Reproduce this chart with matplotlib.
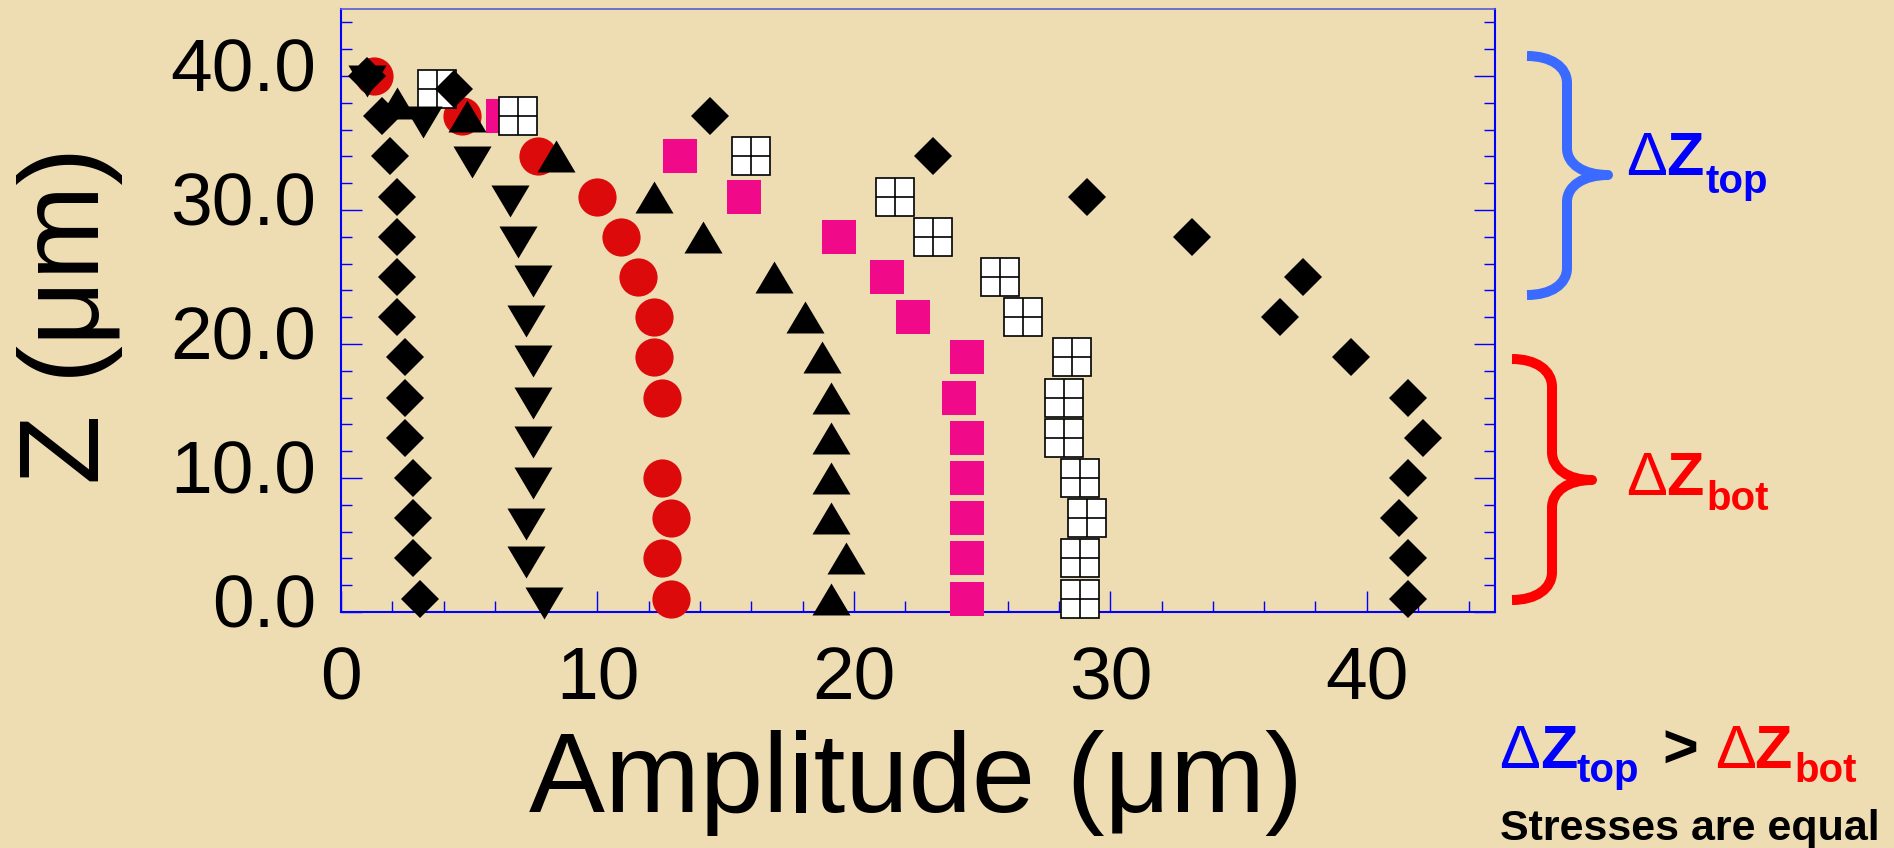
import numpy as np
import matplotlib.pyplot as plt
import matplotlib.transforms as mtransforms
from matplotlib.path import Path
from matplotlib.patches import PathPatch

plt.rcParams['font.family'] = ['Liberation Sans', 'DejaVu Sans']

# amplitude (um) vs depth Z (um), one pair of lists per profile
z_dia1 = [1, 4, 7, 10, 13, 16, 19, 22, 25, 28, 31, 34, 37, 40]
a_dia1 = [3.1, 2.8, 2.8, 2.8, 2.5, 2.5, 2.5, 2.2, 2.2, 2.2, 2.2, 1.9, 1.6, 1.0]

z_down = [0.7, 3.7, 6.6, 9.6, 12.7, 15.6, 18.7, 21.7, 24.7, 27.6, 30.7, 33.6, 36.6, 39.6]
a_down = [7.9, 7.2, 7.2, 7.5, 7.5, 7.5, 7.5, 7.2, 7.5, 6.9, 6.6, 5.1, 3.2, 1.0]

z_circ = [1, 4, 7, 10, 16, 19, 22, 25, 28, 31, 34, 37, 40]
a_circ = [12.85, 12.5, 12.85, 12.5, 12.5, 12.2, 12.2, 11.6, 10.9, 10.0, 7.7, 4.7, 1.3]

z_up = [1, 4, 7, 10, 13, 16, 19, 22, 25, 28, 31, 34, 37, 38]
a_up = [19.1, 19.7, 19.1, 19.1, 19.1, 19.1, 18.75, 18.1, 16.9, 14.1, 12.2, 8.4, 4.9, 2.2]

z_pink = [1, 4, 7, 10, 13, 16, 19, 22, 25, 28, 31, 34, 37]
a_pink = [24.4, 24.4, 24.4, 24.4, 24.4, 24.1, 24.4, 22.3, 21.3, 19.4, 15.7, 13.2, 6.3]

z_grid = [1, 4, 7, 10, 13, 16, 19, 22, 25, 28, 31, 34, 37, 39]
a_grid = [28.8, 28.8, 29.1, 28.8, 28.2, 28.2, 28.5, 26.6, 25.7, 23.1, 21.6, 16.0, 6.9, 3.75]

z_dia2 = [1, 4, 7, 10, 13, 16, 19, 22, 25, 28, 31, 34, 37, 39]
a_dia2 = [41.6, 41.6, 41.25, 41.6, 42.2, 41.6, 39.4, 36.6, 37.5, 33.2, 29.1, 23.1, 14.4, 4.4]

xticks = [0, 10, 20, 30, 40]
xtick_labels = ['0', '10', '20', '30', '40']
yticks = [0, 10, 20, 30, 40]
ytick_labels = ['0.0', '10.0', '20.0', '30.0', '40.0']

W, H = 1894, 848
BG = '#EEDCB2'
BLUE = '#0000FF'
RED = '#DC0A0A'
PINK = '#F00A8A'

fig = plt.figure(figsize=(W / 100, H / 100), dpi=100, facecolor=BG)
ax = fig.add_axes([341 / W, 1 - 612 / H, (1495 - 341) / W, (612 - 9) / H])
ax.set_facecolor('none')

# equilateral-ish triangles, bbox centred
tri_up = Path([(-0.5, -0.42), (0.5, -0.42), (0, 0.42), (-0.5, -0.42)], closed=True)
tri_dn = Path([(-0.5, 0.42), (0.5, 0.42), (0, -0.42), (-0.5, 0.42)], closed=True)

kw = dict(ls='none', clip_on=False)
ax.plot(a_circ, z_circ, marker='o', ms=27.5, mfc=RED, mec=RED, mew=0, zorder=3, **kw)
ax.plot(a_pink, z_pink, marker='s', ms=24.5, mfc=PINK, mec=PINK, mew=0, zorder=4, **kw)
ax.plot(a_grid, z_grid, marker='s', ms=27, mfc='white', mec='black', mew=1.2, zorder=5, **kw)
ax.plot(a_grid, z_grid, marker='+', ms=27, mec='black', mew=1.2, zorder=5.1, **kw)
ax.plot(a_up, z_up, marker=tri_up, ms=27.4, mfc='black', mec='black', mew=0, zorder=6, **kw)
ax.plot(a_down, z_down, marker=tri_dn, ms=27.4, mfc='black', mec='black', mew=0, zorder=6, **kw)
ax.plot(a_dia1, z_dia1, marker='D', ms=19.3, mfc='black', mec='black', mew=0, zorder=7, **kw)
ax.plot(a_dia2, z_dia2, marker='D', ms=19.3, mfc='black', mec='black', mew=0, zorder=7, **kw)

ax.set_xlim(0, 45)
ax.set_ylim(0, 45)
ax.set_xticks(xticks, xtick_labels)
ax.set_yticks(yticks, ytick_labels)
ax.set_xticks(np.arange(0, 46, 2), minor=True)
ax.set_yticks(np.arange(0, 46, 2), minor=True)

for s in ax.spines.values():
    s.set_color(BLUE)
    s.set_linewidth(1.5)
ax.spines['top'].set_color('#5a5ad8')
ax.spines['top'].set_linewidth(1.2)

ax.tick_params(which='both', direction='in', color=BLUE, width=1,
               top=False, right=True, left=True, bottom=True)
ax.tick_params(which='major', length=15, labelsize=54)
ax.tick_params(which='minor', length=8)
ax.tick_params(axis='x', which='major', pad=24)
ax.tick_params(axis='y', which='major', pad=18)

# y labels sit a little above their ticks in the original
off = mtransforms.ScaledTranslation(0, 12 / 100, fig.dpi_scale_trans)
for lab in ax.get_yticklabels():
    lab.set_transform(lab.get_transform() + off)

fig.text(916 / W, 1 - 812 / H, 'Amplitude (\u03bcm)', fontsize=82,
         ha='center', va='baseline')
fig.text(70 / W, 1 - 315 / H, 'Z (\u03bcm)', fontsize=82, rotation=90,
         ha='center', va='center')


def brace(xe, xs, xt, yt, ym, yb, r, color):
    pts = [(xe, yt),
           (xe + 0.6 * (xs - xe), yt), (xs, yt + 0.4 * r), (xs, yt + r),
           (xs, ym - r),
           (xs, ym - 0.4 * r), (xs + 0.4 * (xt - xs), ym), (xt, ym),
           (xs + 0.4 * (xt - xs), ym), (xs, ym + 0.4 * r), (xs, ym + r),
           (xs, yb - r),
           (xs, yb - 0.4 * r), (xe + 0.6 * (xs - xe), yb), (xe, yb)]
    codes = [Path.MOVETO] + [Path.CURVE4] * 3 + [Path.LINETO] + [Path.CURVE4] * 6 \
        + [Path.LINETO] + [Path.CURVE4] * 3
    pts = [(x / W, 1 - y / H) for x, y in pts]
    fig.add_artist(PathPatch(Path(pts, codes), transform=fig.transFigure,
                             fill=False, edgecolor=color, lw=7.2,
                             capstyle='butt', joinstyle='round'))


brace(1527, 1567, 1608, 56, 175, 295, 27, '#3A6AFF')
brace(1512, 1552, 1592, 359, 480, 600, 28, '#FF0000')


def put(x, y, s, size, color, weight='normal'):
    fig.text(x / W, 1 - y / H, s, fontsize=size, color=color,
             fontweight=weight, ha='left', va='baseline')


put(1626, 175, '\u0394', 44, BLUE)
put(1666, 175, 'Z', 44, BLUE, 'bold')
put(1705, 193, 'top', 29, BLUE, 'bold')

put(1626, 495, '\u0394', 44, '#FF0000')
put(1666, 495, 'Z', 44, '#FF0000', 'bold')
put(1706, 510, 'bot', 29, '#FF0000', 'bold')

put(1499, 768, '\u0394', 44, BLUE)
put(1540, 768, 'Z', 44, BLUE, 'bold')
put(1576, 782, 'top', 29, BLUE, 'bold')
put(1662, 768, '>', 44, 'black', 'bold')
put(1715, 768, '\u0394', 44, '#FF0000')
put(1754, 768, 'Z', 44, '#FF0000', 'bold')
put(1794, 782, 'bot', 29, '#FF0000', 'bold')
put(1500, 840, 'Stresses are equal', 31, 'black', 'bold')

fig.savefig('out.png', dpi=100, facecolor=fig.get_facecolor())
